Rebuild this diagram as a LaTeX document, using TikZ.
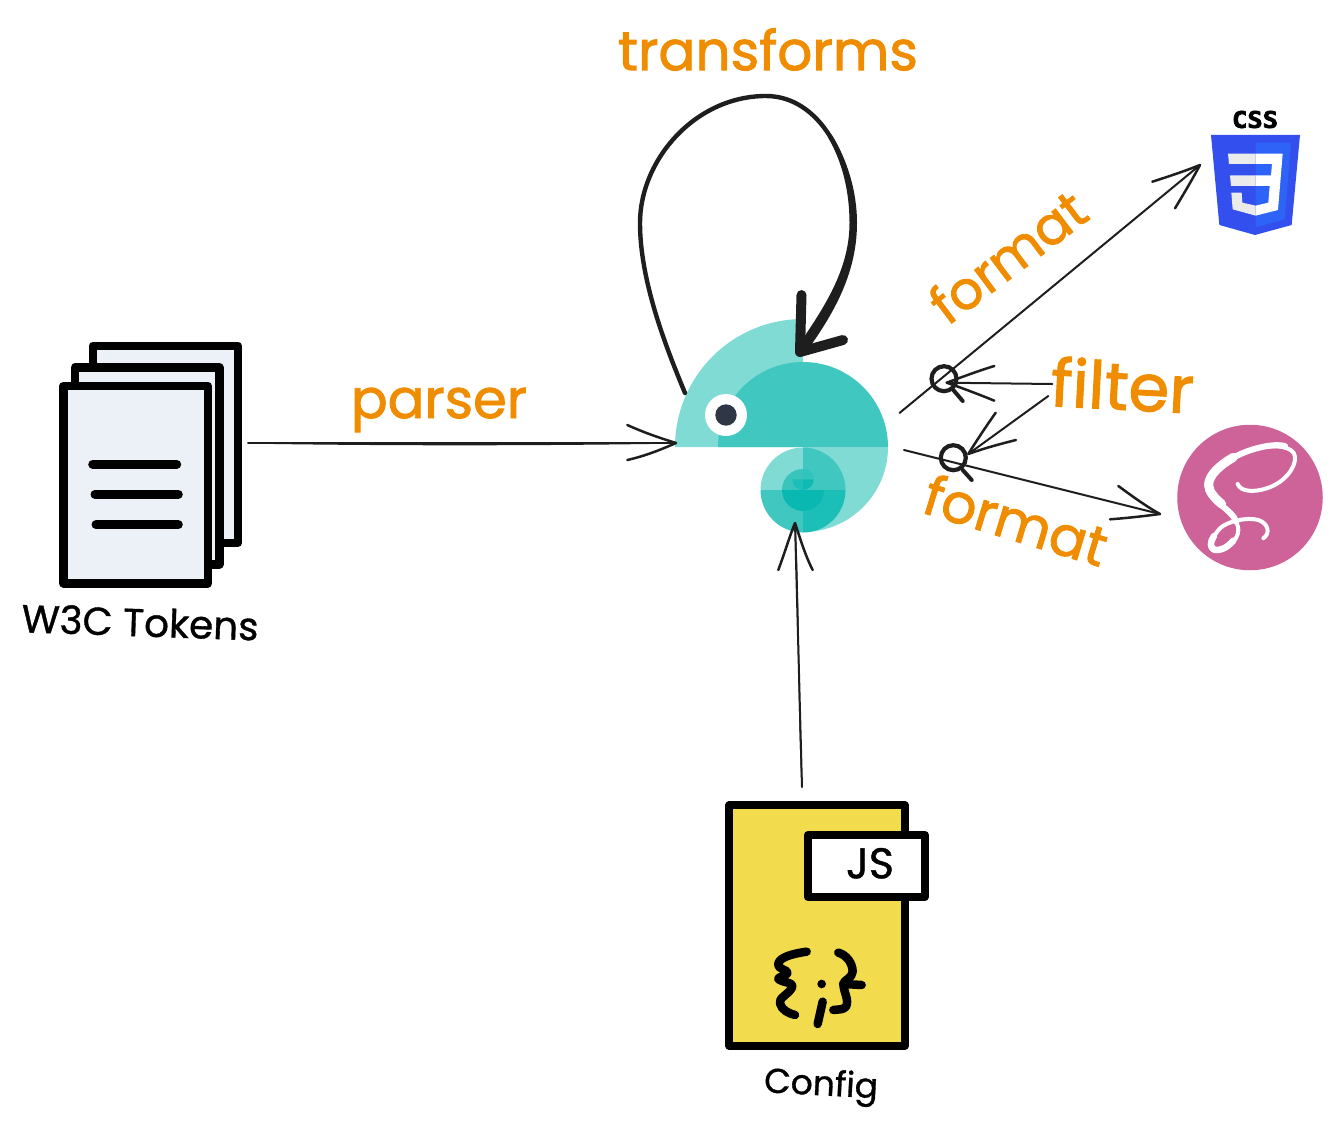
\documentclass[tikz,border=0pt]{standalone}
\usepackage{graphicx}
\usepackage{fontspec}
\newfontfamily\handfont{Poppins}[FakeBold=1.6]
\newfontfamily\thinhand{Poppins}[FakeBold=0.9]
\newfontfamily\blockfont{DejaVu Sans Mono}[FakeBold=3]
\newcommand{\fitw}[2]{\resizebox{#1pt}{!}{\strut #2}}
\definecolor{ink}{HTML}{1E1E1E}
\definecolor{orangetxt}{HTML}{F08C00}
\definecolor{teallight}{HTML}{7FDBD4}
\definecolor{tealmid}{HTML}{40C7BF}
\definecolor{tealdark}{HTML}{1BBFB7}
\definecolor{tealdeep}{HTML}{09B9B1}
\definecolor{eyedark}{HTML}{2F3747}
\definecolor{paperfill}{HTML}{ECF1F8}
\definecolor{jsyellow}{HTML}{F2DC4D}
\definecolor{sasspink}{HTML}{CD6399}
\definecolor{cssblue}{HTML}{3350EE}
\definecolor{cssbright}{HTML}{2D63F6}
\definecolor{cssgrey}{HTML}{EBEBEB}
\tikzset{
  wire/.style={draw=ink,line width=2pt,line cap=round},
  barb/.style={draw=ink,line width=2.5pt,line cap=round,line join=round},
  ring/.style={draw=ink,line width=4.2pt,circle,minimum size=25pt,inner sep=0pt},
  ringtail/.style={draw=ink,line width=4pt,line cap=round},
  sheet/.style={draw=black,line width=8.4pt,line join=round,fill=paperfill},
  rule/.style={draw=black,line width=9pt,line cap=round},
  docbox/.style={draw=black,line width=8.2pt,line join=round},
  brace/.style={draw=black,line width=8.5pt,line cap=round,line join=round},
  orangelabel/.style={text=orangetxt,inner sep=0pt,font=\handfont},
  blacklabel/.style={text=black,inner sep=0pt,font=\thinhand},
  sassline/.style={draw=white,line cap=round,line join=round},
}
\begin{document}
\begin{tikzpicture}[x=1pt,y=-1pt]
\useasboundingbox (0,0) rectangle (1342,1130);

% Chameleon
\fill[teallight] (675,447) arc[start angle=180,end angle=270,radius=128] -- (803,447) -- cycle;
\fill[tealmid] (718,447) arc[start angle=180,end angle=360,radius=85] -- cycle;
\fill[teallight] (888,447) arc[start angle=0,end angle=90,radius=85] -- (803,447) -- cycle;
\fill[teallight] (803,490) -- (760.5,490) arc[start angle=180,end angle=270,radius=42.5] -- cycle;
\fill[tealmid] (803,490) -- (803,447.5) arc[start angle=270,end angle=360,radius=42.5] -- cycle;
\fill[tealmid] (803,490) -- (803,532.5) arc[start angle=90,end angle=180,radius=42.5] -- cycle;
\fill[tealdark] (803,490) -- (845.5,490) arc[start angle=0,end angle=90,radius=42.5] -- cycle;
\fill[tealmid!80!tealdark] (803,490) -- (782,490) arc[start angle=180,end angle=270,radius=21] -- cycle;
\fill[tealmid!60!tealdark] (803,479.3) -- (803,468.6) arc[start angle=270,end angle=360,radius=10.7] -- cycle;
\fill[tealdeep] (782,490) arc[start angle=180,end angle=0,radius=21] -- cycle;
\fill[tealdark] (792.3,479.3) arc[start angle=180,end angle=90,radius=10.7] -- (803,479.3) -- cycle;
\fill[tealdeep!70!tealdark] (803,479.3) -- (813.7,479.3) arc[start angle=0,end angle=90,radius=10.7] -- cycle;
\fill[white] (726,415) circle[radius=21];
\fill[eyedark] (726,415) circle[radius=10.7];

% Named connector ends
\coordinate (loopstart) at (685,393);
\coordinate (loopleft) at (640,223);
\coordinate (looptop) at (766,96);
\coordinate (loopright) at (853,223);
\coordinate (looptip) at (800,352);
\coordinate (loopbarbA) at (801.5,295);
\coordinate (loopbarbB) at (843,340);

\coordinate (parsestart) at (248,443);
\coordinate (parsetip) at (676,443);
\coordinate (parsebarbA) at (627.3,425);
\coordinate (parsebarbB) at (627.3,460);

\coordinate (cfgstart) at (802,787);
\coordinate (cfgtip) at (795,523);
\coordinate (cfgbarbA) at (778.3,570);
\coordinate (cfgbarbB) at (812.7,570);

\coordinate (cssstart) at (899.5,413);
\coordinate (csstip) at (1200,165);
\coordinate (cssbarbA) at (1152.3,181.7);
\coordinate (cssbarbB) at (1175,208.3);

\coordinate (sassstart) at (904,450);
\coordinate (sasstip) at (1160,514);
\coordinate (sassbarbA) at (1118.3,486);
\coordinate (sassbarbB) at (1110,519.3);

\coordinate (filtA) at (1052.3,384);
\coordinate (filtAtip) at (946.7,382.7);
\coordinate (filtAbarbA) at (994.3,366);
\coordinate (filtAbarbB) at (994.3,400.7);

\coordinate (filtB) at (1048.3,396);
\coordinate (filtBtip) at (968.3,454);
\coordinate (filtBbarbA) at (995.7,412.7);
\coordinate (filtBbarbB) at (1016,440);

% Rings on the format arrows
\node[ring] (ringA) at (944,378.7) {};
\node[ring] (ringB) at (953.3,457.7) {};
\draw[ringtail] (953.3,390) -- (962.7,401);
\draw[ringtail] (962.7,470) -- (971.7,480);

% Loop
\draw[draw=ink,line width=4.4pt,line cap=round] (loopstart) .. controls (665,345) and (640,280) .. (loopleft)
  .. controls (640,160) and (695,96) .. (looptop)
  .. controls (820,96) and (853,160) .. (loopright)
  .. controls (853,275) and (825,315) .. (looptip);
\fill[ink] (831.5,134.5) .. controls (847,159) and (857,191) .. (857,223)
  .. controls (857,277) and (830,319) .. (804,355) -- (796,349)
  .. controls (820,313) and (849.5,273) .. (849.5,223)
  .. controls (849.5,191) and (842,161) .. (828,137.3) -- cycle;
\draw[draw=ink,line width=10pt,line cap=round,line join=round] (loopbarbA) -- (looptip) -- (loopbarbB);

% Parser arrow
\draw[wire] (parsestart) -- (parsetip);
\draw[draw=ink,line width=1.2pt] (parsestart) .. controls (400,445.5) and (550,445) .. (parsetip);
\draw[barb] (parsebarbA) .. controls (645,433) and (660,438) .. (parsetip) .. controls (660,450) and (645,456) .. (parsebarbB);

% Config arrow
\draw[wire] (cfgstart) -- (cfgtip);
\draw[draw=ink,line width=1.2pt] (cfgstart) .. controls (798,700) and (799,600) .. (cfgtip);
\draw[barb] (cfgbarbA) .. controls (785,552) and (790,535) .. (cfgtip) .. controls (800,538) and (805,555) .. (cfgbarbB);

% Format arrows
\draw[wire] (cssstart) -- (csstip);
\draw[barb] (cssbarbA) .. controls (1170,176) and (1185,171) .. (csstip) .. controls (1192,180) and (1183,195) .. (cssbarbB);
\draw[wire] (sassstart) -- (sasstip);
\draw[barb] (sassbarbA) .. controls (1132,496) and (1147,507) .. (sasstip) .. controls (1145,516) and (1128,518) .. (sassbarbB);

% Filter arrows
\draw[wire] (filtA) -- (filtAtip);
\draw[barb] (filtAbarbA) .. controls (978,371) and (962,377) .. (filtAtip) .. controls (962,388) and (978,394) .. (filtAbarbB);
\draw[wire] (filtB) -- (filtBtip);
\draw[barb] (filtBbarbA) .. controls (987,425) and (977,440) .. (filtBtip) .. controls (985,448) and (1000,444) .. (filtBbarbB);

% Labels
\node[orangelabel] (lbltransforms) at (768,57) {\fitw{300}{transforms}};
\node[orangelabel] (lblparser) at (439,405) {\fitw{176}{parser}};
\node[orangelabel,rotate=37] (lblformatA) at (1012,262) {\fitw{180}{format}};
\node[orangelabel,rotate=-3] (lblfilter) at (1122,394) {\fitw{143}{filter}};
\node[orangelabel,rotate=-17] (lblformatB) at (1014,527) {\fitw{188}{format}};
\node[blacklabel,rotate=-2] (lbltokens) at (140,627) {\fitw{237}{W3C Tokens}};
\node[blacklabel,rotate=-3] (lblconfig) at (821,1087) {\fitw{114}{Config}};

% Stack of pages
\draw[sheet] (92.7,345.7) rectangle (237.7,542.7);
\draw[sheet] (75,367.3) rectangle (219.3,564.3);
\draw[sheet] (63.3,386) rectangle (207.7,583.3);
\draw[rule] (92.7,464.3) -- (176.7,464.3);
\draw[rule] (95,494.3) -- (178.3,494.3);
\draw[rule] (96,524.7) -- (178.3,524.7);

% Config file
\draw[docbox,fill=jsyellow] (729.3,805.3) rectangle (904.7,1045.7);
\draw[docbox,fill=white] (808,835) rectangle (924.7,896.7);
\node[blacklabel] (lbljs) at (870,868) {\fitw{48}{JS}};
\begin{scope}[shift={(700,780)},x=0.3333pt,y=-0.3333pt]
  \draw[brace] (320,515) .. controls (285,520) and (240,530) .. (235,550) .. controls (232,570) and (268,570) .. (262,580)
     .. controls (255,592) and (232,590) .. (235,597) .. controls (250,610) and (285,605) .. (275,625)
     .. controls (262,645) and (235,655) .. (240,670) .. controls (245,690) and (265,700) .. (285,705);
  \draw[brace] (415,518) .. controls (440,525) and (458,550) .. (458,575) .. controls (458,595) and (430,600) .. (430,612)
     -- (485,615);
  \draw[brace] (430,612) .. controls (432,640) and (448,660) .. (438,680) .. controls (430,690) and (415,688) .. (400,690);
  \draw[brace] (368,665) -- (353,732);
  \fill[black] (365,612) circle[radius=13];
\end{scope}

% CSS badge
\begin{scope}[shift={(1200,100)},x=0.3333pt,y=-0.3333pt]
  \fill[cssblue] (33,105) -- (300,105) -- (275,375) -- (165,405) -- (58,375) -- cycle;
  \fill[cssbright] (167,128) -- (273,128) -- (254,358) -- (167,382) -- cycle;
  \fill[cssgrey] (84,161) -- (167,161) -- (167,192) -- (87,192) -- cycle;
  \fill[cssgrey] (90,226) -- (167,226) -- (167,258) -- (93,258) -- cycle;
  \fill[cssgrey] (94,278) -- (125,278) -- (127,308) -- (167,317) -- (167,347) -- (98,328) -- cycle;
  \fill[white] (167,161) -- (248,161) -- (234,330) -- (167,347) -- (167,317) -- (205,308) -- (209,258) -- (167,258) -- (167,226) -- (213,226) -- (216,192) -- (167,192) -- cycle;
\end{scope}
\node[inner sep=0pt,font=\blockfont\bfseries] (lblcss) at (1255,119.5) {\resizebox{46pt}{17pt}{CSS}};

% Sass badge
\node[circle,fill=sasspink,minimum size=145.5pt,inner sep=0pt] (sassbadge) at (1250,497.5) {};
\begin{scope}[shift={(1170,420)},x=0.3333pt,y=-0.3333pt]
  \draw[sassline,line width=4pt] (203,192) .. controls (212,215) and (250,218) .. (290,205)
    .. controls (340,190) and (378,145) .. (375,110)
    .. controls (372,80) and (320,72) .. (260,85)
    .. controls (200,100) and (112,150) .. (112,195)
    .. controls (112,240) and (205,280) .. (205,330)
    .. controls (205,365) and (160,392) .. (135,392)
    .. controls (115,392) and (118,360) .. (150,325)
    .. controls (170,305) and (230,290) .. (265,300)
    .. controls (295,310) and (302,340) .. (280,355);
  \draw[sassline,line width=6pt] (345,78) .. controls (320,72) and (285,78) .. (260,85)
    .. controls (200,100) and (112,150) .. (112,195)
    .. controls (112,240) and (190,270) .. (198,305);
  \draw[sassline,line width=9pt] (190,112) .. controls (150,135) and (116,165) .. (116,195)
    .. controls (116,215) and (135,235) .. (155,252);
  \draw[sassline,line width=6.5pt] (190,362) .. controls (170,385) and (150,392) .. (135,390)
    .. controls (118,385) and (120,365) .. (132,348);
\end{scope}
\end{tikzpicture}
\end{document}
